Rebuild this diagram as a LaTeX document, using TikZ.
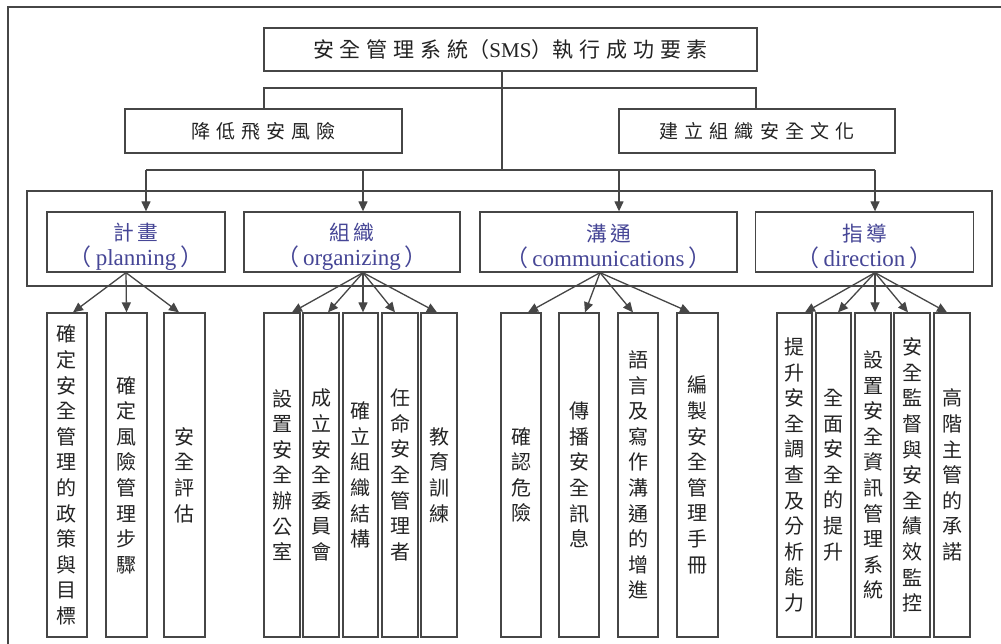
\documentclass[tikz,border=0pt]{standalone}
\usepackage{fontspec}
\setmainfont{Liberation Serif}
\newfontfamily\cjk{Noto Sans CJK TC}
\newfontfamily\cjkT[LetterSpace=28]{Noto Sans CJK TC}
\newfontfamily\cjkS[LetterSpace=32]{Noto Sans CJK TC}
\newfontfamily\cjkC[LetterSpace=15,Scale=0.9]{Noto Sans CJK TC}
\usetikzlibrary{arrows.meta}
\definecolor{ln}{RGB}{70,70,70}
\definecolor{catc}{RGB}{70,70,150}
\definecolor{txt}{RGB}{35,35,35}
\ExplSyntaxOn
\NewDocumentCommand\vstack{m}{\tl_map_inline:nn {#1} {##1\par}}
\ExplSyntaxOff
\tikzset{
  box/.style={draw=ln, line width=1.3pt, inner sep=0pt, text=txt},
  catbox/.style={box, minimum height=60pt, align=center, text=catc, font=\fontsize{23}{25}\selectfont},
  leaf/.style={box, minimum height=324pt, text width=22pt, align=center, font=\cjk\fontsize{20}{25.6}\selectfont},
  conn/.style={draw=ln, line width=1.3pt},
  arr/.style={conn, -{Triangle[length=10pt,width=9pt]}},
}
\newcommand\leafnode[4]{\node[leaf,minimum width=#3pt] (#1) at (#2,475) {\vstack{#4}};}
\newcommand\catlabel[2]{\rule{0pt}{27pt}{\cjkC #1}\\{\cjk （}\hspace{4pt}#2\hspace{4pt}{\cjk ）}}
\begin{document}
\begin{tikzpicture}[x=1pt,y=-1pt]
\useasboundingbox (0,0) rectangle (1001,644);
\fill[white] (0,0) rectangle (1001,644);
\draw[ln, line width=1.3pt] (8,660) -- (8,7) -- (1010,7);
% title
\node[box, minimum width=493pt, minimum height=43pt, font=\fontsize{21}{24}\selectfont] (title) at (510.5,49.5)
  {{\cjkT 安全管理系統}{\cjk （}SMS{\cjk ）}{\cjkT 執行成功要素}};
\node[box, minimum width=277pt, minimum height=44pt, font=\cjkS\fontsize{19}{22}\selectfont] (s1) at (263.5,131) {降低飛安風險};
\node[box, minimum width=276pt, minimum height=44pt, font=\cjkS\fontsize{19}{22}\selectfont] (s2) at (757,131) {建立組織安全文化};
\coordinate (hl) at (264,88);
\coordinate (hr) at (756,88);
\coordinate (jn) at (502,170);
\draw[conn] (s1.north -| hl) -- (hl) -- (hr) -- (s2.north -| hr);
\draw[conn] (title.south -| jn) -- (jn);
% group frame
\draw[ln, line width=1.3pt] (27,191) rectangle (992,286);
% categories
\node[catbox, minimum width=178pt] (c1) at (136,242) {\catlabel{計畫}{planning}};
\node[catbox, minimum width=216pt] (c2) at (352,242) {\catlabel{組織}{organizing}};
\node[catbox, minimum width=257pt] (c3) at (608.5,242) {\catlabel{溝通}{communications}};
\node[catbox, minimum width=218pt] (c4) at (864.5,242) {\catlabel{指導}{direction}};
\coordinate (b1) at (146,170);
\coordinate (b2) at (363,170);
\coordinate (b3) at (619,170);
\coordinate (b4) at (875,170);
\draw[conn] (b1) -- (b4);
\foreach \i in {1,2,3,4} {\draw[arr] (b\i) -- (b\i |- c\i.north);}
% leaves
\leafnode{p1}{67}{40}{確定安全管理的政策與目標}
\leafnode{p2}{126.5}{41}{確定風險管理步驟}
\leafnode{p3}{184.5}{41}{安全評估}
\leafnode{o1}{282}{36}{設置安全辦公室}
\leafnode{o2}{321}{36}{成立安全委員會}
\leafnode{o3}{360.5}{35}{確立組織結構}
\leafnode{o4}{400}{36}{任命安全管理者}
\leafnode{o5}{439}{36}{教育訓練}
\leafnode{m1}{521}{40}{確認危險}
\leafnode{m2}{579}{40}{傳播安全訊息}
\leafnode{m3}{638}{40}{語言及寫作溝通的增進}
\leafnode{m4}{697.5}{41}{編製安全管理手冊}
\leafnode{d1}{794.5}{35}{提升安全調查及分析能力}
\leafnode{d2}{833.5}{35}{全面安全的提升}
\leafnode{d3}{873}{36}{設置安全資訊管理系統}
\leafnode{d4}{912}{36}{安全監督與安全績效監控}
\leafnode{d5}{952}{36}{高階主管的承諾}
% fans
\foreach \t/\s in {p1/6,p2/0,p3/-5.5}
  \draw[arr] ([xshift=-10pt]c1.south) -- ([xshift=\s pt]\t.north);
\foreach \t/\s in {o1/10,o2/7,o3/2.5,o4/-5,o5/-2}
  \draw[arr] ([xshift=11pt]c2.south) -- ([xshift=\s pt]\t.north);
\foreach \t/\s in {m1/7,m2/6,m3/-5,m4/-7.5}
  \draw[arr] ([xshift=-8.5pt]c3.south) -- ([xshift=\s pt]\t.north);
\foreach \t/\s in {d1/10.5,d2/4.5,d3/2,d4/-4,d5/-5}
  \draw[arr] ([xshift=10.5pt]c4.south) -- ([xshift=\s pt]\t.north);
\end{tikzpicture}
\end{document}
